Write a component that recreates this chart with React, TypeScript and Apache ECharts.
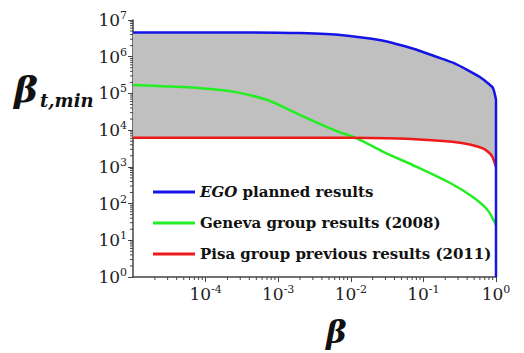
import React, { useEffect, useRef } from "react";
import * as echarts from "echarts";

// EGO planned results (blue)
const egoBeta = [1e-5, 1e-4, 1e-3, 2e-3, 7.2e-3, 2.6e-2, 4.5e-2, 8.1e-2, 0.15, 0.26, 0.4, 0.6, 0.8, 0.91, 0.97, 1.0, 1.0];
const egoValues = [4.6e6, 4.6e6, 4.5e6, 4.4e6, 3.9e6, 2.8e6, 2.15e6, 1.55e6, 1.0e6, 6.8e5, 4.4e5, 2.8e5, 1.8e5, 1.4e5, 9e4, 6.5e4, 1];

// Geneva group results (2008) (green)
const genevaBeta = [1e-5, 3e-5, 1e-4, 2.4e-4, 7.1e-4, 2.0e-3, 5.8e-3, 1.23e-2, 2.8e-2, 8.1e-2, 0.234, 0.48, 0.76, 0.97, 1.0];
const genevaValues = [1.7e5, 1.55e5, 1.35e5, 1.12e5, 6.6e4, 2.57e4, 1.02e4, 5.9e3, 2.57e3, 1.0e3, 363, 151, 68, 30, 25];

// Pisa group previous results (2011) (red)
const pisaBeta = [1e-5, 1e-2, 0.032, 0.1, 0.25, 0.45, 0.66, 0.79, 0.89, 0.955, 1.0];
const pisaValues = [6.2e3, 6.2e3, 6.0e3, 5.5e3, 4.8e3, 4.0e3, 3.2e3, 2.5e3, 1.9e3, 1.3e3, 1.0e3];

const seriesNames = ["EGO planned results", "Geneva group results (2008)", "Pisa group previous results (2011)"];
const seriesColors = ["#1414e6", "#22ee22", "#ee1a1a"];

const xMin = 1e-5;
const xMax = 1;
const yMin = 1;
const yMax = 1e7;

const SERIF = "DejaVu Serif";

function pairs(xs: number[], ys: number[]) {
  return xs.map((x, i) => [x, ys[i]]);
}

function minorTicks(lo: number, hi: number) {
  const out: number[] = [];
  for (let e = Math.round(Math.log10(lo)); e < Math.round(Math.log10(hi)); e++) {
    for (let k = 2; k <= 9; k++) out.push(k * Math.pow(10, e));
  }
  return out;
}

const labelRich = {
  b: { fontSize: 17, fontFamily: SERIF, color: "#222", lineHeight: 20 },
  s: { fontSize: 11, fontFamily: SERIF, color: "#222", verticalAlign: "top", lineHeight: 10 },
};

function expLabel(v: number) {
  const e = Math.round(Math.log10(v));
  return `{b|10}{s|${e}}`;
}

export default function App() {
  const ref = useRef<HTMLDivElement>(null);
  useEffect(() => {
    document.body.style.margin = "0";
    const chart = echarts.init(ref.current!, null, { renderer: "svg" });
    const blue = pairs(egoBeta, egoValues);
    const red = pairs(pisaBeta, pisaValues);
    const option: any = {
      animation: false,
      backgroundColor: "#ffffff",
      textStyle: { fontFamily: SERIF },
      grid: { left: 133, right: 28, top: 20, bottom: 76 },
      xAxis: {
        type: "log",
        min: xMin,
        max: xMax,
        splitNumber: 5,
        axisLine: { lineStyle: { color: "#444", width: 1.5 } },
        axisTick: { show: true, inside: false, length: 5, lineStyle: { color: "#444" } },
        splitLine: { show: false },
        axisLabel: { showMinLabel: false, margin: 7, fontFamily: SERIF, formatter: expLabel, rich: labelRich },
      },
      yAxis: {
        type: "log",
        min: yMin,
        max: yMax,
        splitNumber: 7,
        axisLine: { show: true, lineStyle: { color: "#444", width: 1.5 } },
        axisTick: { show: true, inside: false, length: 5, lineStyle: { color: "#444" } },
        splitLine: { show: false },
        axisLabel: { margin: 6, fontFamily: SERIF, formatter: expLabel, rich: labelRich },
      },
      legend: {
        orient: "vertical",
        left: 148,
        top: 177,
        data: seriesNames,
        icon: "rect",
        itemWidth: 42,
        itemHeight: 3,
        itemGap: 11,
        selectedMode: false,
        formatter: (name: string) => (name === seriesNames[0] ? "{i|EGO}{t| planned results}" : `{t|${name}}`),
        textStyle: {
          fontFamily: SERIF,
          fontWeight: "bold",
          fontSize: 15,
          color: "#111",
          lineHeight: 20,
          rich: {
            i: { fontFamily: SERIF, fontWeight: "bold", fontStyle: "italic", fontSize: 15, color: "#111", lineHeight: 20 },
            t: { fontFamily: SERIF, fontWeight: "bold", fontSize: 15, color: "#111", lineHeight: 20 },
          },
        },
      },
      graphic: [
        { type: "text", x: 14, y: 71, style: { text: "β", fontFamily: SERIF, fontStyle: "italic", fontWeight: "bold", fontSize: 36, fill: "#111", verticalAlign: "top" } },
        { type: "text", x: 40, y: 91, style: { text: "t,min", fontFamily: SERIF, fontStyle: "italic", fontWeight: "bold", fontSize: 18, fill: "#111", verticalAlign: "top" } },
        { type: "text", x: 326, y: 316, style: { text: "β", fontFamily: SERIF, fontStyle: "italic", fontWeight: "bold", fontSize: 31, fill: "#111", verticalAlign: "top" } },
      ],
      series: [
        {
          type: "custom",
          name: "fill",
          z: 1,
          silent: true,
          data: [[1e-3, 1e3]],
          renderItem: (_p: any, api: any) => {
            const pts: number[][] = [];
            for (let i = 0; i < blue.length - 1; i++) pts.push(api.coord(blue[i]));
            for (let i = red.length - 1; i >= 0; i--) pts.push(api.coord(red[i]));
            return { type: "polygon", shape: { points: pts }, style: { fill: "#c0c0c0" } };
          },
        },
        {
          type: "custom",
          name: "xminor",
          z: 5,
          silent: true,
          data: minorTicks(xMin, xMax).map((v) => [v, yMin]),
          renderItem: (_p: any, api: any) => {
            const p = api.coord([api.value(0), api.value(1)]);
            return { type: "line", shape: { x1: p[0], y1: p[1], x2: p[0], y2: p[1] + 3 }, style: { stroke: "#444", lineWidth: 1 } };
          },
        },
        {
          type: "custom",
          name: "yminor",
          z: 5,
          silent: true,
          data: minorTicks(yMin, yMax).map((v) => [xMin, v]),
          renderItem: (_p: any, api: any) => {
            const p = api.coord([api.value(0), api.value(1)]);
            return { type: "line", shape: { x1: p[0], y1: p[1], x2: p[0] - 3, y2: p[1] }, style: { stroke: "#444", lineWidth: 1 } };
          },
        },
        {
          type: "line",
          name: seriesNames[1],
          data: pairs(genevaBeta, genevaValues),
          showSymbol: false,
          smooth: 0.3,
          z: 3,
          color: seriesColors[1],
          lineStyle: { color: seriesColors[1], width: 2.5 },
        },
        {
          type: "line",
          name: seriesNames[2],
          data: red,
          showSymbol: false,
          smooth: 0.3,
          z: 3,
          color: seriesColors[2],
          lineStyle: { color: seriesColors[2], width: 2.5 },
        },
        {
          type: "line",
          name: seriesNames[0],
          data: blue,
          showSymbol: false,
          smooth: 0.2,
          z: 4,
          color: seriesColors[0],
          lineStyle: { color: seriesColors[0], width: 2.5 },
        },
      ],
    };
    chart.setOption(option);
    return () => chart.dispose();
  }, []);
  return <div ref={ref} style={{ width: 524, height: 353 }} />;
}
